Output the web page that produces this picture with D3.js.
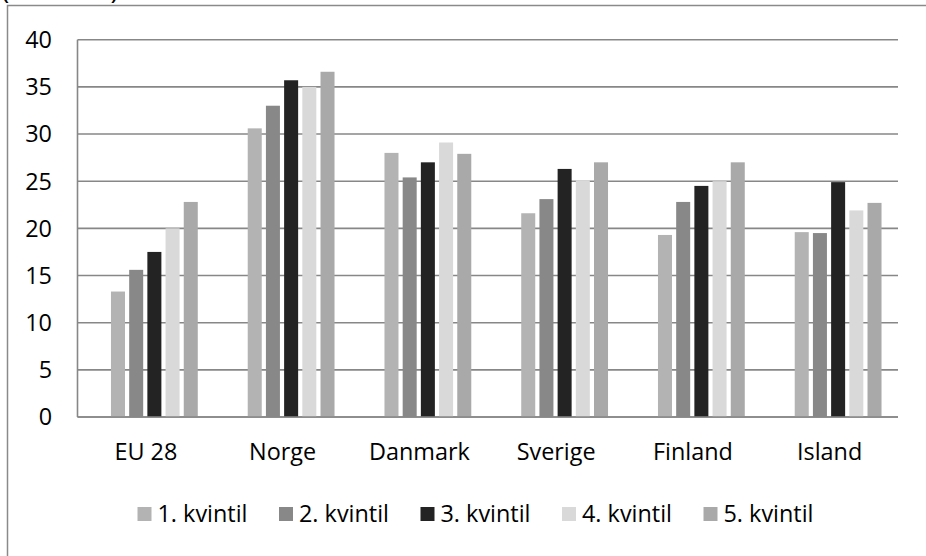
<!DOCTYPE html>
<html>
<head>
<meta charset="utf-8">
<script src="https://cdn.jsdelivr.net/npm/d3@7"></script>
<style>
  html, body { margin: 0; padding: 0; background: #fff; }
  svg { display: block; }
  text { font-family: "Open Sans", sans-serif; fill: #000; }
</style>
</head>
<body>
<div id="chart"></div>
<script>
(function(){

// data
var categories = ["EU 28", "Norge", "Danmark", "Sverige", "Finland", "Island"];
var seriesNames = ["1. kvintil", "2. kvintil", "3. kvintil", "4. kvintil", "5. kvintil"];
var kvintil1 = [13.3, 30.6, 28.0, 21.6, 19.3, 19.6];
var kvintil2 = [15.6, 33.0, 25.4, 23.1, 22.8, 19.5];
var kvintil3 = [17.5, 35.7, 27.0, 26.3, 24.5, 24.9];
var kvintil4 = [20.0, 35.0, 29.1, 25.1, 25.0, 21.9];
var kvintil5 = [22.8, 36.6, 27.9, 27.0, 27.0, 22.7];
var yTicks = [0, 5, 10, 15, 20, 25, 30, 35, 40];

var seriesValues = [kvintil1, kvintil2, kvintil3, kvintil4, kvintil5];
var colors = ["#b3b3b3", "#888888", "#232323", "#d9d9d9", "#a9a9a9"];

var W = 926, H = 556;
var plot = {left: 77.5, right: 898, top: 39.7, bottom: 417};
var fontSize = 23.4;
var groupSpan = 86.8,   // width taken by the 5 bars of a group
    barShift = 8.5;     // bars sit a little right of the category centre

var svg = d3.select("#chart").append("svg")
    .attr("width", W)
    .attr("height", H);

// outer frame (left and top edges visible)
svg.append("path")
    .attr("d", "M7.5," + H + "V5.5H" + W)
    .attr("fill", "none")
    .attr("stroke", "#8a8a8a")
    .attr("stroke-width", 1.5);

// title sits above the picture, only the bottom of its brackets shows
svg.append("text")
    .attr("x", 1)
    .attr("y", -1)
    .style("font-size", "28px")
    .text("(Prosent)");

var x0 = d3.scaleBand().domain(categories).range([plot.left, plot.right]);
var x1 = d3.scaleBand().domain(seriesNames).range([0, groupSpan])
    .paddingInner(0.23).paddingOuter(0);
var y = d3.scaleLinear().domain([0, 40]).range([plot.bottom, plot.top]);

// gridlines
svg.append("g").selectAll("line")
    .data(yTicks)
  .enter().append("line")
    .attr("x1", plot.left)
    .attr("x2", plot.right)
    .attr("y1", function(d) { return y(d); })
    .attr("y2", function(d) { return y(d); })
    .attr("stroke", "#878787")
    .attr("stroke-width", 1.6);

// left axis line
svg.append("line")
    .attr("x1", plot.left).attr("x2", plot.left)
    .attr("y1", y(40)).attr("y2", y(0))
    .attr("stroke", "#878787")
    .attr("stroke-width", 1.6);

// bars
var groups = svg.append("g").selectAll("g")
    .data(categories)
  .enter().append("g")
    .attr("transform", function(c) {
        return "translate(" + (x0(c) + (x0.bandwidth() - groupSpan) / 2 + barShift) + ",0)";
    });

groups.selectAll("rect")
    .data(function(c, ci) {
        return seriesNames.map(function(s, si) { return {key: s, idx: si, value: seriesValues[si][ci]}; });
    })
  .enter().append("rect")
    .attr("x", function(d) { return x1(d.key); })
    .attr("width", x1.bandwidth())
    .attr("y", function(d) { return y(d.value); })
    .attr("height", function(d) { return y(0) - y(d.value); })
    .attr("fill", function(d) { return colors[d.idx]; });

// zero line on top
svg.append("line")
    .attr("x1", plot.left).attr("x2", plot.right)
    .attr("y1", y(0)).attr("y2", y(0))
    .attr("stroke", "#878787")
    .attr("stroke-width", 1.6);

// y tick labels
svg.append("g").selectAll("text")
    .data(yTicks)
  .enter().append("text")
    .attr("x", 52)
    .attr("y", function(d) { return y(d); })
    .attr("dy", "0.36em")
    .attr("text-anchor", "end")
    .style("font-size", fontSize + "px")
    .text(function(d) { return d; });

// category labels
svg.append("g").selectAll("text")
    .data(categories)
  .enter().append("text")
    .attr("x", function(c) { return x0(c) + x0.bandwidth() / 2; })
    .attr("y", 460)
    .attr("text-anchor", "middle")
    .style("font-size", fontSize + "px")
    .text(function(c) { return c; });

// legend
var legend = svg.append("g").selectAll("g")
    .data(seriesNames)
  .enter().append("g")
    .attr("transform", function(d, i) { return "translate(" + (137.5 + i * 141.5) + ",507)"; });

legend.append("rect")
    .attr("width", 14)
    .attr("height", 14)
    .attr("fill", function(d, i) { return colors[i]; });

legend.append("text")
    .attr("x", 20)
    .attr("y", 15)
    .style("font-size", fontSize + "px")
    .text(function(d) { return d; });

})();
</script>
</body>
</html>
